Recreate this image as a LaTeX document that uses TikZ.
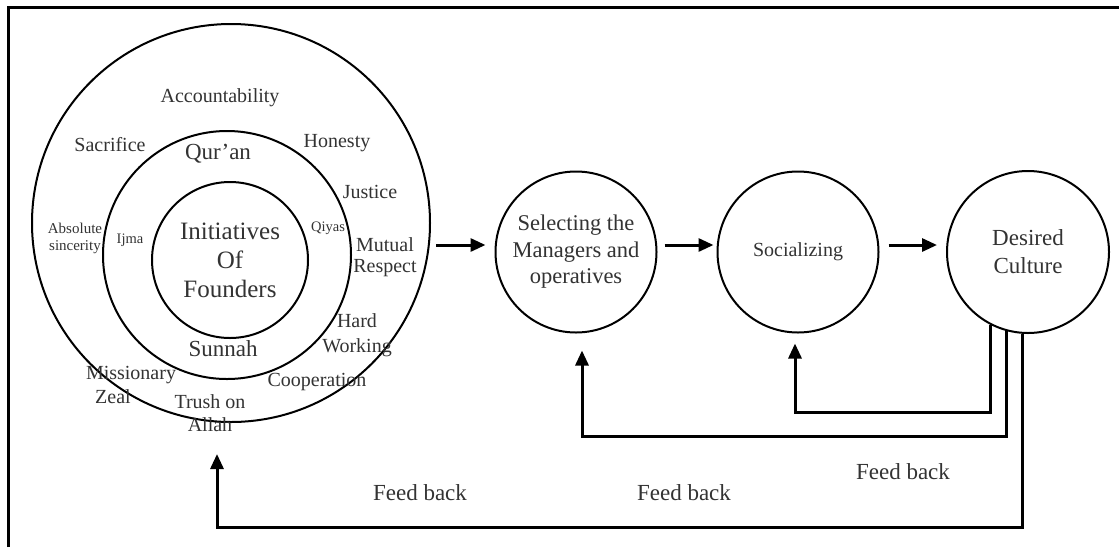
\documentclass[tikz,border=0pt]{standalone}
\usepackage{fontspec}
\setmainfont{Liberation Serif}
\usetikzlibrary{arrows.meta}
\begin{document}
\begin{tikzpicture}[x=1pt,y=-1pt,
  ring/.style={circle, draw, line width=2pt, inner sep=0pt},
  stage/.style={circle, draw, line width=2pt, minimum size=161pt, inner sep=0pt,
    align=center, text=black!80},
  val/.style={align=center, inner sep=0pt, text=black!80,
    font=\fontsize{20}{21}\selectfont},
  src/.style={align=center, inner sep=0pt, text=black!80,
    font=\fontsize{23}{25}\selectfont},
  tiny/.style={align=center, inner sep=0pt, text=black!80,
    font=\fontsize{14.5}{17}\selectfont},
  lbl/.style={inner sep=0pt, text=black!80, font=\fontsize{23}{26}\selectfont},
  flow/.style={line width=3pt, -{Triangle[length=15pt,width=13pt]}},
  fb/.style={line width=3pt, line join=miter, -{Triangle[length=15pt,width=13pt]}}
]
\useasboundingbox (0,0) rectangle (1119,547);
\fill[white] (0,0) rectangle (1119,547);

% frame (top and left edges)
\draw[line width=3pt, line join=miter] (8.5,547) -- (8.5,7.5) -- (1119,7.5);

% concentric value rings
\node[ring, minimum size=398pt] (outer) at (231,223) {};
\node[ring, minimum size=248pt] (middle) at (227,255) {};
\node[ring, minimum size=156pt, align=center, text=black!80,
      font=\fontsize{25}{29}\selectfont] (inner) at (230,260)
      {Initiatives\\Of\\Founders};

% outer ring values
\node[val] (acc) at (220,98) {Accountability};
\node[val] (sac) at (110,145) {Sacrifice};
\node[val] (hon) at (337,143) {Honesty};
\node[val] (jus) at (370,192) {Justice};
\node[tiny, font=\fontsize{15}{17}\selectfont] (abs) at (75,238) {Absolute\\sincerity};
\node[val] (mut) at (385,257) {Mutual\\Respect};
\node[val, font=\fontsize{20}{25}\selectfont] (hard) at (357,335) {Hard\\Working};
\node[val] (miss) at (131,375) {Missionary};
\node[val] (zeal) at (113,397) {Zeal};
\node[val] (coop) at (317,382) {Cooperation};
\node[val, font=\fontsize{20}{23}\selectfont] (trush) at (210,413) {Trush on\\Allah};

% middle ring sources
\node[src] (quran) at (218,154) {Qur’an};
\node[src] (sunnah) at (223,349) {Sunnah};
\node[tiny] (ijma) at (130,240) {Ijma};
\node[tiny] (qiyas) at (328,228) {Qiyas};

% process stages
\node[stage, font=\fontsize{22.5}{26.5}\selectfont] (sel) at (576,252)
      {Selecting the\\Managers and\\operatives};
\node[stage, font=\fontsize{20}{24}\selectfont] (soc) at (798,252) {Socializing};
\node[stage, minimum size=162pt, font=\fontsize{23}{28}\selectfont] (dc) at (1028,252)
      {Desired\\Culture};

% forward flow
\coordinate (a1) at ([yshift=7pt]sel.west);
\coordinate (a2) at ([yshift=7pt]soc.west);
\coordinate (a3) at ([yshift=7pt]dc.west);
\coordinate (b2) at ([yshift=7pt]sel.east);
\coordinate (b3) at ([yshift=7pt]soc.east);
\draw[flow, shorten <=5pt, shorten >=9pt] (outer.east |- a1) -- (a1);
\draw[flow, shorten <=7pt, shorten >=3pt] (b2) -- (a2);
\draw[flow, shorten <=9pt, shorten >=9pt] (b3) -- (a3);

% feedback loops
\coordinate (socin) at ([xshift=-3pt]soc.south);
\coordinate (selin) at ([xshift=6pt]sel.south);
\coordinate (outin) at ([xshift=-14pt]outer.south);
\draw[fb, shorten >=10pt] (dc.243.6) -- (dc.243.6 |- 0,412) -- (socin |- 0,412) -- (socin);
\draw[fb, shorten >=17pt] (dc.255.7) -- (dc.255.7 |- 0,436) -- (selin |- 0,436) -- (selin);
\draw[fb, shorten >=31pt] (dc.266.5) -- (dc.266.5 |- 0,527) -- (outin |- 0,527) -- (outin);

% feedback labels
\node[lbl] (fbl1) at (420,493) {Feed back};
\node[lbl] (fbl2) at (684,493) {Feed back};
\node[lbl] (fbl3) at (903,472) {Feed back};
\end{tikzpicture}
\end{document}
